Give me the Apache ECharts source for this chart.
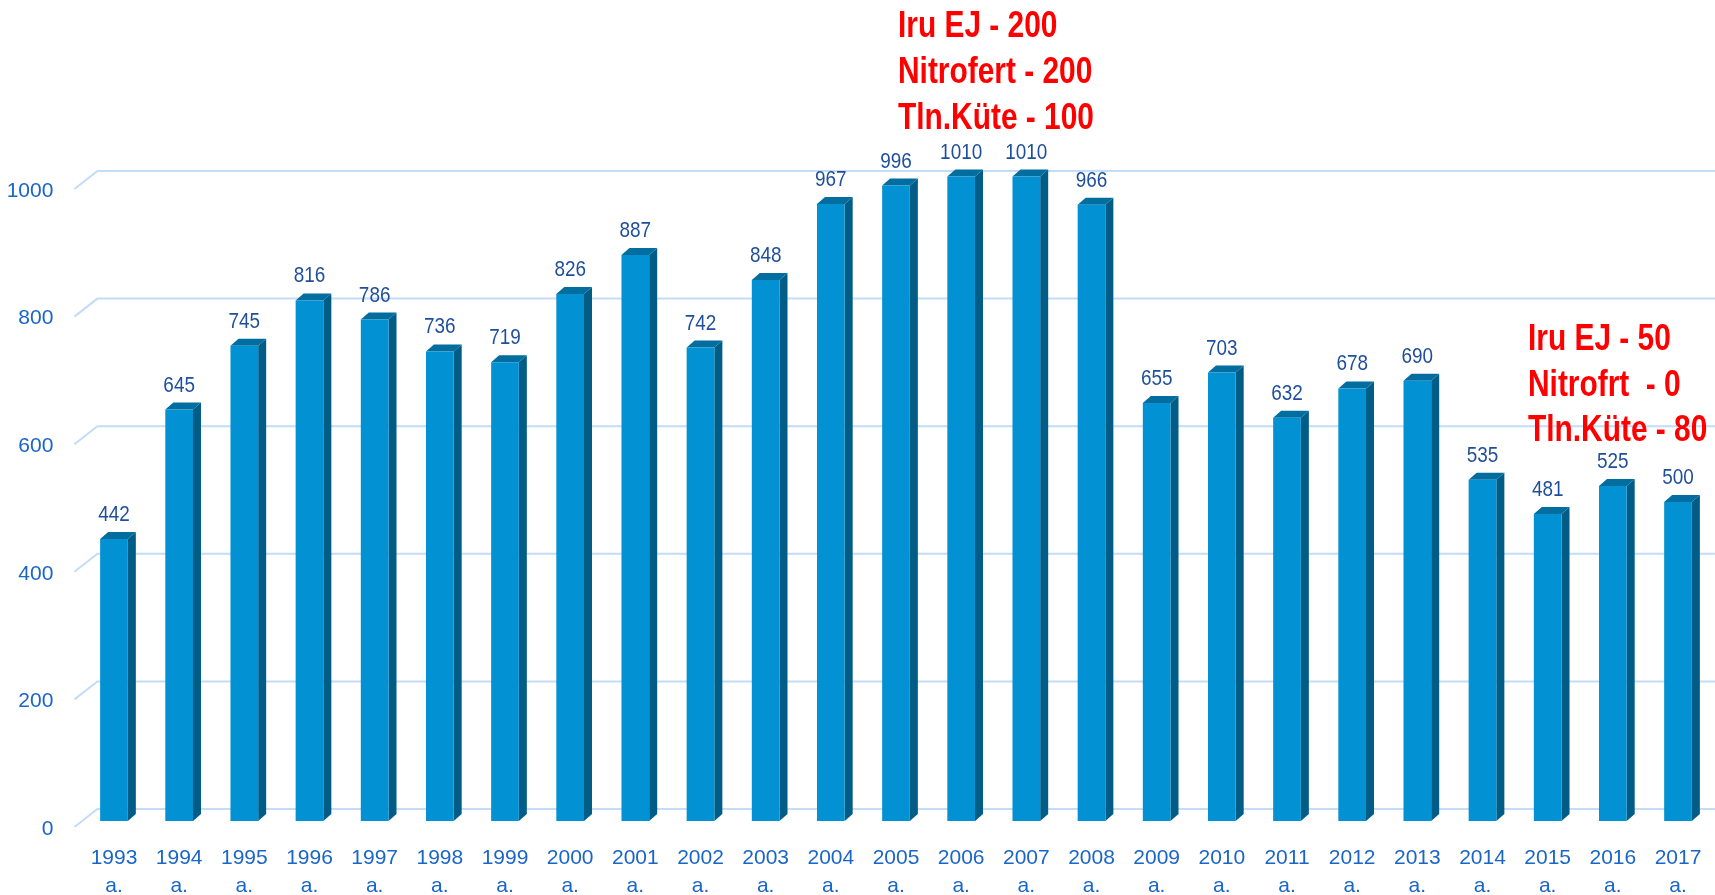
<!DOCTYPE html>
<html><head><meta charset="utf-8">
<script src="https://cdn.jsdelivr.net/npm/echarts@6/dist/echarts.min.js"></script>
<style>html,body{margin:0;padding:0;background:#fff}#c{width:1715px;height:895px}</style>
</head><body><div id="c"></div>
<script>
const years = ['1993','1994','1995','1996','1997','1998','1999','2000','2001','2002','2003','2004','2005','2006','2007','2008','2009','2010','2011','2012','2013','2014','2015','2016','2017'];
const values = [442,645,745,816,786,736,719,826,887,742,848,967,996,1010,1010,966,655,703,632,678,690,535,481,525,500];
const yTicks = [0,200,400,600,800,1000];
const note1 = ['Iru EJ - 200','Nitrofert - 200','Tln.Küte - 100'];
const note2 = ['Iru EJ - 50','Nitrofrt  - 0','Tln.Küte - 80'];

const FONT = "'Liberation Sans',Arial,sans-serif";
const chart = echarts.init(document.getElementById('c'));

function noteGraphics(lines, left, centers) {
  return lines.map((t, i) => ({
    type: 'text', x: left, y: centers[i], z: 100, scaleX: 0.83,
    style: { text: t, fill: '#ff0000', font: "bold 36px " + FONT,
      textVerticalAlign: 'middle', verticalAlign: 'middle' }
  }));
}

const option = {
  backgroundColor: '#fff',
  animation: false,
  grid: [
    { left: 81.4, right: 4.4, top: 183, bottom: 74, outerBoundsMode: 'none', containLabel: false },
    { left: 81.4, right: 4.4, top: 191, bottom: 66, outerBoundsMode: 'none', containLabel: false }
  ],
  xAxis: [
    { type: 'category', gridIndex: 0, data: years,
      axisLine: { show: false }, axisTick: { show: false },
      axisLabel: { interval: 0, margin: 23, color: '#1a66c8', fontSize: 21, lineHeight: 28,
        fontFamily: FONT, formatter: v => v + '\na.' } },
    { type: 'category', gridIndex: 1, data: years, show: false }
  ],
  yAxis: [
    { type: 'value', gridIndex: 0, min: 0, max: 1000, interval: 200,
      axisLine: { show: false }, axisTick: { show: false }, splitLine: { show: false },
      axisLabel: { show: false } },
    { type: 'value', gridIndex: 1, min: 0, max: 1000, interval: 200,
      axisLine: { show: false }, axisTick: { show: false }, splitLine: { show: false },
      axisLabel: { margin: 28, color: '#1a66c8', fontSize: 21, fontFamily: FONT, formatter: v => String(v) } }
  ],
  series: [
    {
      type: 'custom', xAxisIndex: 0, yAxisIndex: 0, z: 1,
      data: yTicks.map(v => [0, v]),
      encode: { x: 0, y: 1 },
      renderItem: function (params, api) {
        const cs = params.coordSys;
        const y = api.coord([0, api.value(1)])[1];
        const xa = cs.x - 7, xb = cs.x + 16;
        return {
          type: 'polyline',
          shape: { points: [[xa, y + 6], [xb, y - 12], [cs.x + cs.width + 10, y - 12]] },
          style: { stroke: '#c3dcf8', lineWidth: 2, fill: null }
        };
      }
    },
    {
      type: 'custom', xAxisIndex: 0, yAxisIndex: 0, z: 5,
      data: values.map((v, i) => [i, v]),
      encode: { x: 0, y: 1 },
      renderItem: function (params, api) {
        const c = api.coord([api.value(0), api.value(1)]);
        const b = api.coord([api.value(0), 0]);
        const band = api.size([1, 0])[0];
        const w = band * 0.425, dx = 8, dy = 7;
        const x0 = c[0] - w / 2, x1 = c[0] + w / 2, yt = c[1], yb = b[1];
        return {
          type: 'group',
          children: [
            { type: 'polygon', shape: { points: [[x1, yt], [x1 + dx, yt - dy], [x1 + dx, yb - dy], [x1, yb]] },
              style: { fill: '#015c86' } },
            { type: 'polygon', shape: { points: [[x0, yt], [x0 + dx, yt - dy], [x1 + dx, yt - dy], [x1, yt]] },
              style: { fill: '#026d9f' } },
            { type: 'rect', shape: { x: x0, y: yt, width: w, height: yb - yt },
              style: { fill: '#0291d2' } },
            { type: 'text', x: c[0], y: yt - 24, scaleX: 0.86,
              style: { text: String(api.value(1)), fill: '#1f4f9c', font: "22px " + FONT,
                align: 'center', verticalAlign: 'middle', textAlign: 'center', textVerticalAlign: 'middle' } }
          ]
        };
      }
    }
  ],
  graphic: noteGraphics(note1, 898, [27, 73, 119]).concat(noteGraphics(note2, 1528, [340, 386, 431]))
};
chart.setOption(option);
</script></body></html>
